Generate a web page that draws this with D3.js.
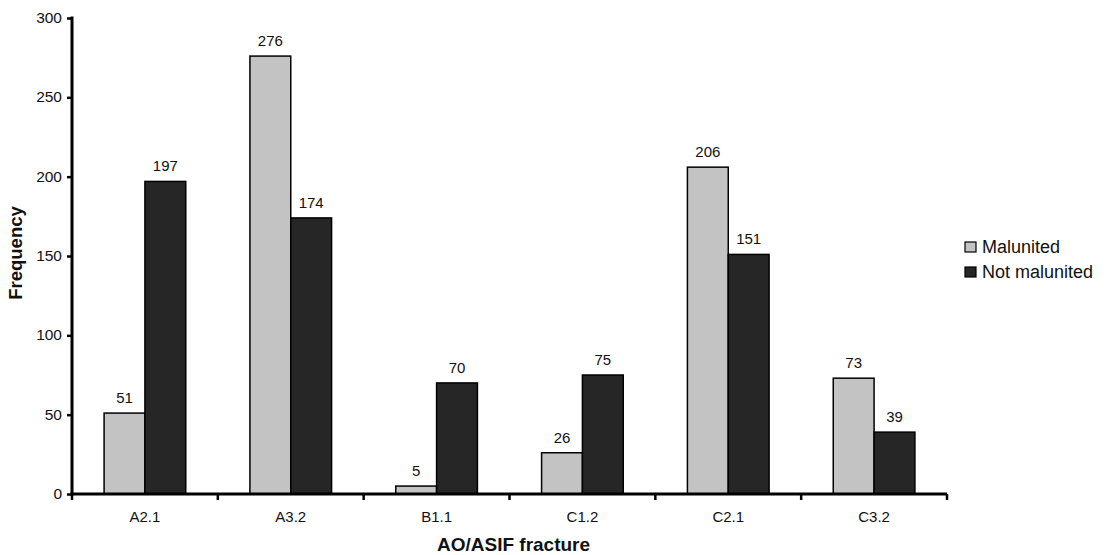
<!DOCTYPE html>
<html><head><meta charset="utf-8">
<script src="https://cdn.jsdelivr.net/npm/d3@7"></script>
<style>body{margin:0;background:#fff}svg{display:block}text{font-family:Arial,"Liberation Sans",sans-serif}</style>
</head><body><svg id="c" width="1111" height="555"></svg>
<script>
const categories = ["A2.1","A3.2","B1.1","C1.2","C2.1","C3.2"];
const malunited = [51,276,5,26,206,73];
const notMalunited = [197,174,70,75,151,39];
const seriesNames = ["Malunited","Not malunited"];
const yTicks = [0,50,100,150,200,250,300];
const colors = ["#c3c3c3","#262626"];

const svg = d3.select("#c");
const m = {l:72, r:1111-947, t:18, b:555-494};
const W = 1111 - m.l - m.r, H = 555 - m.t - m.b;
const g = svg.append("g").attr("transform",`translate(${m.l},${m.t})`);
const x = d3.scaleBand().domain(categories).range([0,W]).paddingInner(0.44).paddingOuter(0.22);
const x1 = d3.scaleBand().domain(seriesNames).range([0,x.bandwidth()]);
const y = d3.scaleLinear().domain([0,300]).range([H,0]);

const data = categories.map((c,i)=>({c, v:[malunited[i], notMalunited[i]]}));
const grp = g.selectAll(".grp").data(data).enter().append("g")
  .attr("transform", d=>`translate(${x(d.c)},0)`);
grp.selectAll("rect").data(d=>d.v.map((v,j)=>({v,s:seriesNames[j],j}))).enter().append("rect")
  .attr("x", d=>x1(d.s)).attr("width", x1.bandwidth())
  .attr("y", d=>y(d.v)).attr("height", d=>H-y(d.v))
  .attr("fill", d=>colors[d.j]).attr("stroke","#000").attr("stroke-width",1.5);
grp.selectAll("text").data(d=>d.v.map((v,j)=>({v,s:seriesNames[j]}))).enter().append("text")
  .attr("x", d=>x1(d.s)+x1.bandwidth()/2).attr("y", d=>y(d.v)-10)
  .attr("text-anchor","middle").attr("font-size",15).attr("fill","#111").text(d=>d.v);

// y axis
const ya = g.append("g").call(d3.axisLeft(y).tickValues(yTicks).tickSize(5).tickPadding(5));
ya.select(".domain").attr("stroke-width",3).attr("d",`M0,${H+1.5}V-1.5`);
ya.selectAll(".tick line").attr("stroke-width",2.5);
ya.selectAll(".tick text").attr("font-size",15.5).attr("fill","#111").attr("dy","0.3em");

// x axis
const xa = g.append("g").attr("transform",`translate(0,${H})`);
xa.append("line").attr("x1",-1.5).attr("x2",W).attr("stroke","#000").attr("stroke-width",3);
xa.selectAll(".tk").data(d3.range(categories.length+1)).enter().append("line")
  .attr("x1", i=> i*W/categories.length).attr("x2", i=> i*W/categories.length)
  .attr("y1",0).attr("y2",6).attr("stroke","#000").attr("stroke-width",2.5);
xa.selectAll(".lbl").data(categories).enter().append("text")
  .attr("x", d=>x(d)+x.bandwidth()/2).attr("y",27.5).attr("text-anchor","middle")
  .attr("font-size",15).attr("fill","#111").text(d=>d);

svg.append("text").attr("x", 437).attr("y",551).attr("text-anchor","start")
  .attr("font-size",19).attr("font-weight","bold").attr("fill","#111").text("AO/ASIF fracture");
svg.append("text").attr("transform",`translate(22,${253}) rotate(-90)`).attr("text-anchor","middle")
  .attr("font-size",18.5).attr("font-weight","bold").attr("fill","#111").text("Frequency");

// legend
const lg = svg.append("g").attr("transform","translate(965,242)");
seriesNames.forEach((s,i)=>{
  const r = lg.append("g").attr("transform",`translate(0,${i*25})`);
  r.append("rect").attr("x",0).attr("y",0).attr("width",11).attr("height",10)
    .attr("fill",colors[i]).attr("stroke","#000").attr("stroke-width",1.2);
  r.append("text").attr("x",17).attr("y",10.5).attr("font-size",18).attr("fill","#111").text(s);
});
</script></body></html>
